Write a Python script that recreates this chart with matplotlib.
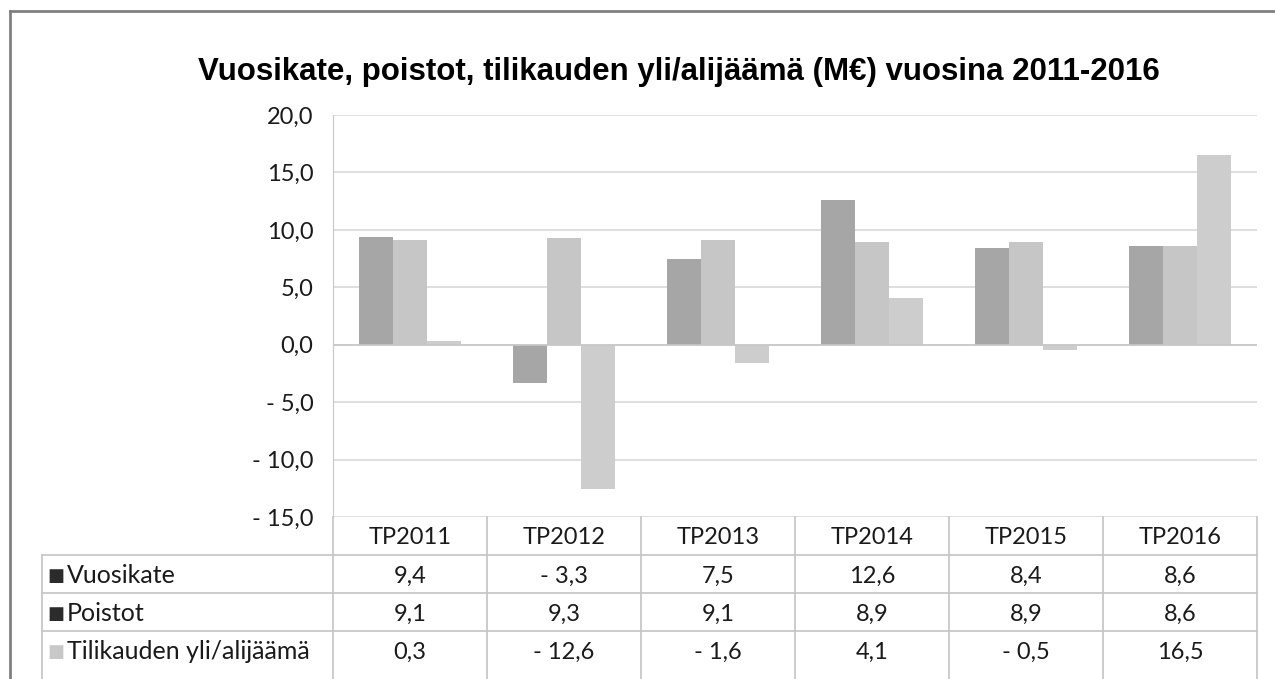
import numpy as np
import matplotlib.pyplot as plt
from matplotlib.lines import Line2D

# Data
vuodet = ["TP2011", "TP2012", "TP2013", "TP2014", "TP2015", "TP2016"]
vuosikate = [9.4, -3.3, 7.5, 12.6, 8.4, 8.6]
poistot = [9.1, 9.3, 9.1, 8.9, 8.9, 8.6]
yli_alijaama = [0.3, -12.6, -1.6, 4.1, -0.5, 16.5]
sarjat = ["Vuosikate", "Poistot", "Tilikauden yli/alijäämä"]
y_ticks = [20, 15, 10, 5, 0, -5, -10, -15]

varit = ["#a6a6a6", "#c6c6c6", "#cdcdcd"]
avainvarit = ["#2b2b2b", "#2b2b2b", "#c8c8c8"]
fontti = "Lato"
fs = 17


def fmt(v):
    s = f"{abs(v):.1f}".replace(".", ",")
    return ("- " + s) if v < 0 else s


W, H = 1275, 679
fig = plt.figure(figsize=(W / 100, H / 100), dpi=100)

# kuvaajan alue pikseleinä
left, right, top, bottom = 333, 1257, 115, 517
ax = fig.add_axes([left / W, 1 - bottom / H, (right - left) / W, (bottom - top) / H])

x = np.arange(len(vuodet))
w = 0.22
for i, (vals, c) in enumerate(zip([vuosikate, poistot, yli_alijaama], varit)):
    ax.bar(x + (i - 1) * w, vals, width=w, color=c, edgecolor="none", zorder=3)

ax.set_xlim(-0.5, len(vuodet) - 0.5)
ax.set_ylim(-15, 20)
ax.set_yticks(y_ticks)
ax.set_yticklabels([fmt(t) for t in y_ticks], fontsize=fs, family=fontti, color="#1a1a1a")
ax.tick_params(axis="y", length=0, pad=14)
ax.set_xticks([])
ax.grid(axis="y", color="#d9d9d9", linewidth=1.2, zorder=0)
for s in ["top", "right", "bottom"]:
    ax.spines[s].set_visible(False)
ax.spines["left"].set_color("#c8c8c8")
ax.axhline(0, color="#c8c8c8", linewidth=1.2, zorder=4)

fig.text(679 / W, 1 - 72 / H, "Vuosikate, poistot, tilikauden yli/alijäämä (M€) vuosina 2011-2016",
         fontsize=22.5, fontweight="bold", family="Liberation Sans", ha="center", va="center")

# taulukko kuvaajan alla
tab_h = H - bottom
tab = fig.add_axes([left / W, 0, (right - left) / W, tab_h / H])
tab.set_xlim(-0.5, len(vuodet) - 0.5)
ala = tab_h / 38
tab.set_ylim(ala, 0)
tab.axis("off")
lx = -0.5 - (left - 42) / ((right - left) / len(vuodet))
lc = "#c4c4c4"

for r in range(1, 4):
    tab.plot([lx, len(vuodet) - 0.5], [r, r], color=lc, lw=1.2, clip_on=False)
for k in range(len(vuodet) + 1):
    tab.plot([k - 0.5, k - 0.5], [0, ala], color=lc, lw=1.2, clip_on=False)
tab.plot([lx, lx], [1, ala], color=lc, lw=1.2, clip_on=False)

for k, v in enumerate(vuodet):
    tab.text(k, 0.55, v, ha="center", va="center", fontsize=fs, family=fontti, color="#1a1a1a")

for r, (nimi, vals, kc) in enumerate(zip(sarjat, [vuosikate, poistot, yli_alijaama], avainvarit)):
    yy = r + 1.55
    tab.text(lx + 0.035, yy, "■", ha="left", va="center", fontsize=13, color=kc,
             family="DejaVu Sans", clip_on=False)
    tab.text(lx + 0.16, yy, nimi, ha="left", va="center", fontsize=18, family=fontti,
             color="#1a1a1a", clip_on=False)
    for k, v in enumerate(vals):
        tab.text(k, yy, fmt(v), ha="center", va="center", fontsize=fs, family=fontti, color="#1a1a1a")

# kehys
fig.add_artist(Line2D([10 / W, 10 / W], [0, 1 - 11 / H], color="#808080", lw=2))
fig.add_artist(Line2D([10 / W, 1], [1 - 11 / H, 1 - 11 / H], color="#808080", lw=2))

fig.savefig("out.png", dpi=100)
